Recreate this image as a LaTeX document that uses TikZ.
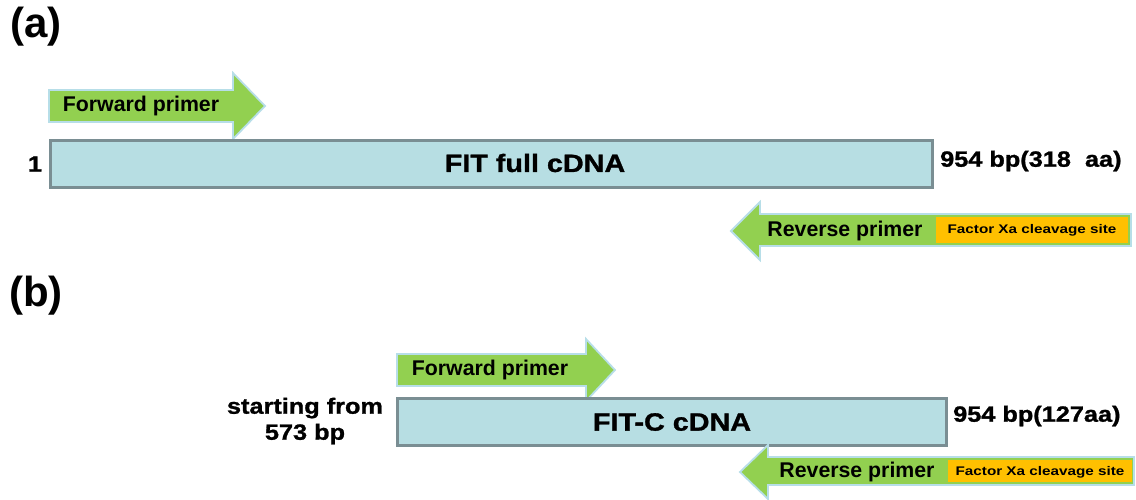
\documentclass[tikz,border=0pt]{standalone}
\usepackage{fontspec}
\setmainfont{Liberation Sans}
\newfontfamily\heavy{Liberation Sans Bold}[FakeStretch=1.15,FakeBold=1.2]
\newfontfamily\xafont{Liberation Sans Bold}[FakeStretch=1.22]
\usepackage{tikz}
\usepackage{xcolor}
\definecolor{cdnafill}{RGB}{183,222,227}
\definecolor{cdnaline}{RGB}{122,142,147}
\definecolor{primfill}{RGB}{146,208,80}
\definecolor{primline}{RGB}{183,222,232}
\definecolor{xafill}{RGB}{255,192,0}

\begin{document}
\begin{tikzpicture}[x=1pt,y=-1pt]%
  \tikzstyle{cdna}=[fill=cdnafill,draw=cdnaline,line width=3pt]
  \tikzstyle{prim}=[fill=primfill,draw=primline,line width=1.8pt,line join=miter]
  \tikzstyle{xa}=[fill=xafill]
  \tikzstyle{panel}=[font=\bfseries\fontsize{42}{44}\selectfont]
  \tikzstyle{big}=[font=\heavy\fontsize{25}{27}\selectfont]
  \tikzstyle{side}=[font=\heavy\fontsize{22}{26}\selectfont,inner sep=0]
  \tikzstyle{mid}=[font=\bfseries\fontsize{21.3}{23}\selectfont,inner sep=0]
  \tikzstyle{tiny}=[font=\xafont\fontsize{12.5}{14}\selectfont,inner sep=0]
  \useasboundingbox (0,0) rectangle (1136,499);
  % (a)
  \node(pa)[panel] at (36,27) {(a)};
  \draw[prim] (49,90) -- (233,90) -- (233,73) -- (265,106) -- (233,139)
    -- (233,122) -- (49,122) -- cycle;
  \node(fwa)[mid] at (141,106) {Forward primer};
  \draw[cdna] (50,140) rectangle (932,187);
  \node(fulla)[big] at (535,163) {FIT full cDNA};
  \node(starta)[side] at (35,164) {1};
  \node(enda)[side,anchor=west] at (940,161) {954 bp(318\ \ aa)};
  \draw[prim] (1131,214) -- (760,214) -- (760,202) -- (731,231) -- (760,260)
    -- (760,246) -- (1131,246) -- cycle;
  \fill[xa] (936,217) rectangle (1128,243);
  \node(rva)[mid] at (845,231) {Reverse primer};
  \node(xaa)[tiny] at (1032,230) {Factor Xa cleavage site};
  % (b)
  \node(pb)[panel] at (36,296) {(b)};
  \draw[prim] (397,354) -- (586,354) -- (586,339) -- (615,370) -- (586,401)
    -- (586,386) -- (397,386) -- cycle;
  \node(fwb)[mid] at (490,370) {Forward primer};
  \draw[cdna] (397,398) rectangle (946,445);
  \node(fullb)[big] at (672,422) {FIT-C cDNA};
  \node(startb)[side,align=center] at (305,421) {starting from\\573 bp};
  \node(endb)[side,anchor=west] at (953,416) {954 bp(127aa)};
  \draw[prim] (1134,457) -- (768,457) -- (768,445) -- (740,472) -- (768,499)
    -- (768,485) -- (1134,485) -- cycle;
  \fill[xa] (948,460) rectangle (1132,482);
  \node(rvb)[mid] at (857,472) {Reverse primer};
  \node(xab)[tiny] at (1040,472) {Factor Xa cleavage site};
\end{tikzpicture}
\end{document}
